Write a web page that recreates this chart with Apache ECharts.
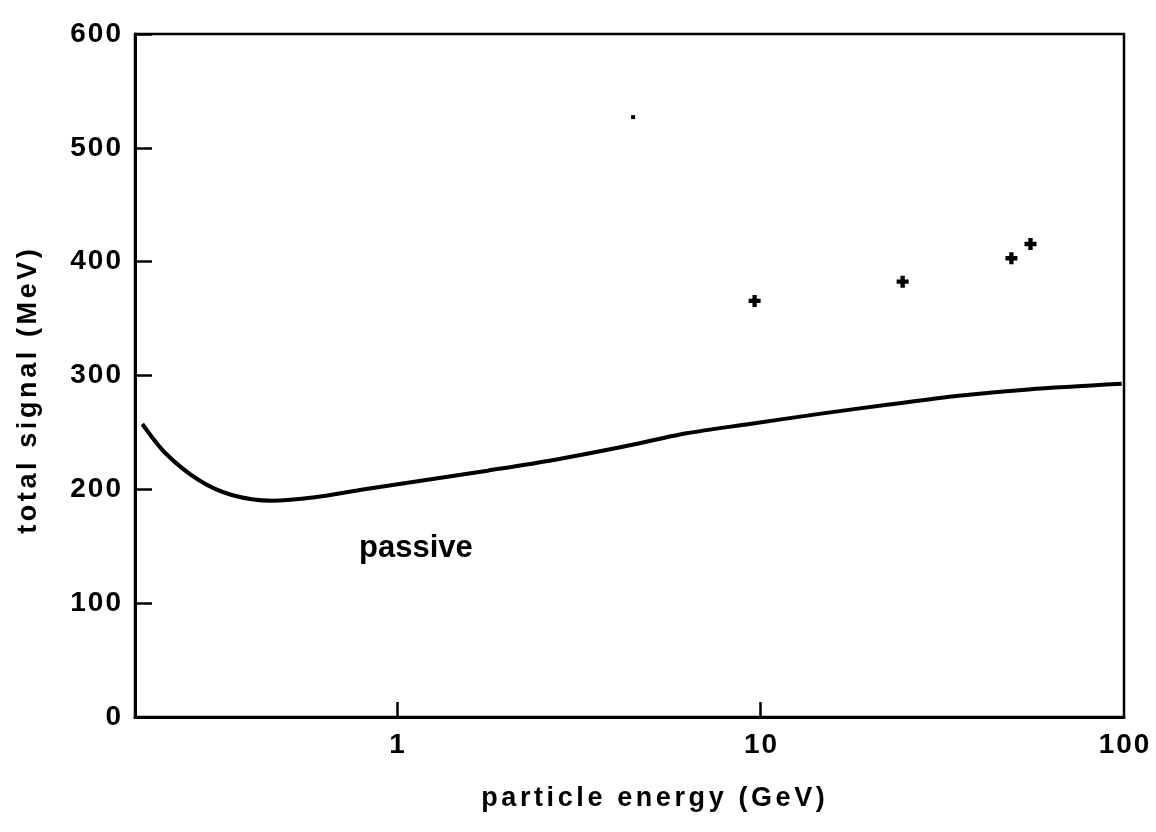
<!DOCTYPE html>
<html><head><meta charset="utf-8">
<script src="https://cdn.jsdelivr.net/npm/echarts@6/dist/echarts.min.js"></script>
<style>html,body{margin:0;padding:0;background:#fff}#c{width:1156px;height:832px}</style>
</head><body><div id="c"></div>
<script>
// passive curve (energy GeV, total signal MeV)
const curveEnergy = [0.199, 0.2305, 0.2844, 0.3509, 0.4516, 0.5935, 0.8136, 1.239, 1.772, 2.698, 4.11, 6.26, 9.33, 14.51, 22.56, 35.1, 54.6, 98.6];
const curveSignal = [257.4, 231.7, 208.2, 195.0, 190.0, 193.0, 200.0, 208.8, 216.4, 225.8, 236.9, 249.2, 257.4, 266.3, 274.5, 282.3, 287.8, 292.7];
// measured points (crosses)
const pointEnergy = [9.63, 24.6, 49.0, 55.3];
const pointSignal = [365.5, 382.4, 403.0, 415.5];
// small isolated dot
const dotEnergy = [4.46];
const dotSignal = [527];
const xLabelValues = [1, 10, 100];
const xTickValues = [1, 10];
const xName = 'particle energy (GeV)';
const yName = 'total signal (MeV)';
const curveLabel = 'passive';

const FONT = 'Liberation Sans, Arial, Helvetica, sans-serif';
function spaced(s, key) { return s.split('').map(c => '{' + key + '|' + c + '}').join(''); }
const zip = (a, b) => a.map((v, i) => [v, b[i]]);

const nameRich = {n: {fontFamily: FONT, fontSize: 27, fontWeight: 'bold', color: '#000', padding: [0, 1.8, 0, 1.8]}};
const labelRich = {d: {fontFamily: FONT, fontSize: 28, fontWeight: 'bold', color: '#000', padding: [0, 1, 0, 1]}};

const chart = echarts.init(document.getElementById('c'), null, {renderer: 'canvas'});
chart.setOption({
  animation: false,
  backgroundColor: '#fff',
  grid: {left: 135, right: 32, top: 34, bottom: 115, containLabel: false, show: true, borderColor: '#000', borderWidth: 2.5, backgroundColor: 'transparent'},
  xAxis: {
    type: 'log', logBase: 10, min: 0.19, max: 100,
    name: spaced(xName, 'n'), nameLocation: 'middle', nameGap: 68,
    nameTextStyle: {fontFamily: FONT, fontSize: 27, fontWeight: 'bold', color: '#000', padding: [0, 0, 0, 47], rich: nameRich},
    axisLine: {show: true, lineStyle: {color: '#000', width: 3}},
    axisTick: {show: true, inside: true, length: 15, lineStyle: {color: '#000', width: 2.5}, customValues: xTickValues},
    minorTick: {show: false},
    axisLabel: {customValues: xLabelValues, margin: 14, color: '#000', fontFamily: FONT, fontSize: 28, fontWeight: 'bold',
      formatter: v => spaced(String(Math.round(v)), 'd'), rich: labelRich},
    splitLine: {show: false}
  },
  yAxis: {
    type: 'value', min: 0, max: 600, interval: 100,
    name: spaced(yName, 'n'), nameLocation: 'middle', nameGap: 93, nameRotate: 90,
    nameTextStyle: {fontFamily: FONT, fontSize: 27, fontWeight: 'bold', color: '#000', padding: [0, 32, 0, 0], rich: nameRich},
    axisLine: {show: true, lineStyle: {color: '#000', width: 3}},
    axisTick: {show: true, inside: true, length: 17, lineStyle: {color: '#000', width: 2.5}},
    axisLabel: {margin: 13, color: '#000', fontFamily: FONT, fontSize: 28, fontWeight: 'bold',
      formatter: v => spaced(String(v), 'd'), rich: labelRich},
    splitLine: {show: false}
  },
  graphic: [{type: 'text', left: 359, top: 533, style: {text: curveLabel, fontFamily: FONT, fontSize: 31, fontWeight: 'bold', fill: '#000'}}],
  series: [
    {type: 'line', data: zip(curveEnergy, curveSignal), smooth: 0.3, showSymbol: false, symbol: 'none',
      lineStyle: {color: '#000', width: 4}, z: 3},
    {type: 'scatter', data: zip(pointEnergy, pointSignal),
      symbol: 'path://M3.2,0H6.8V3.2H10V6.8H6.8V10H3.2V6.8H0V3.2H3.2Z', symbolSize: 12,
      itemStyle: {color: '#000', opacity: 1}, z: 4},
    {type: 'scatter', data: zip(dotEnergy, dotSignal), symbol: 'rect', symbolSize: 4,
      itemStyle: {color: '#000', opacity: 1}, z: 4}
  ]
});
</script></body></html>
